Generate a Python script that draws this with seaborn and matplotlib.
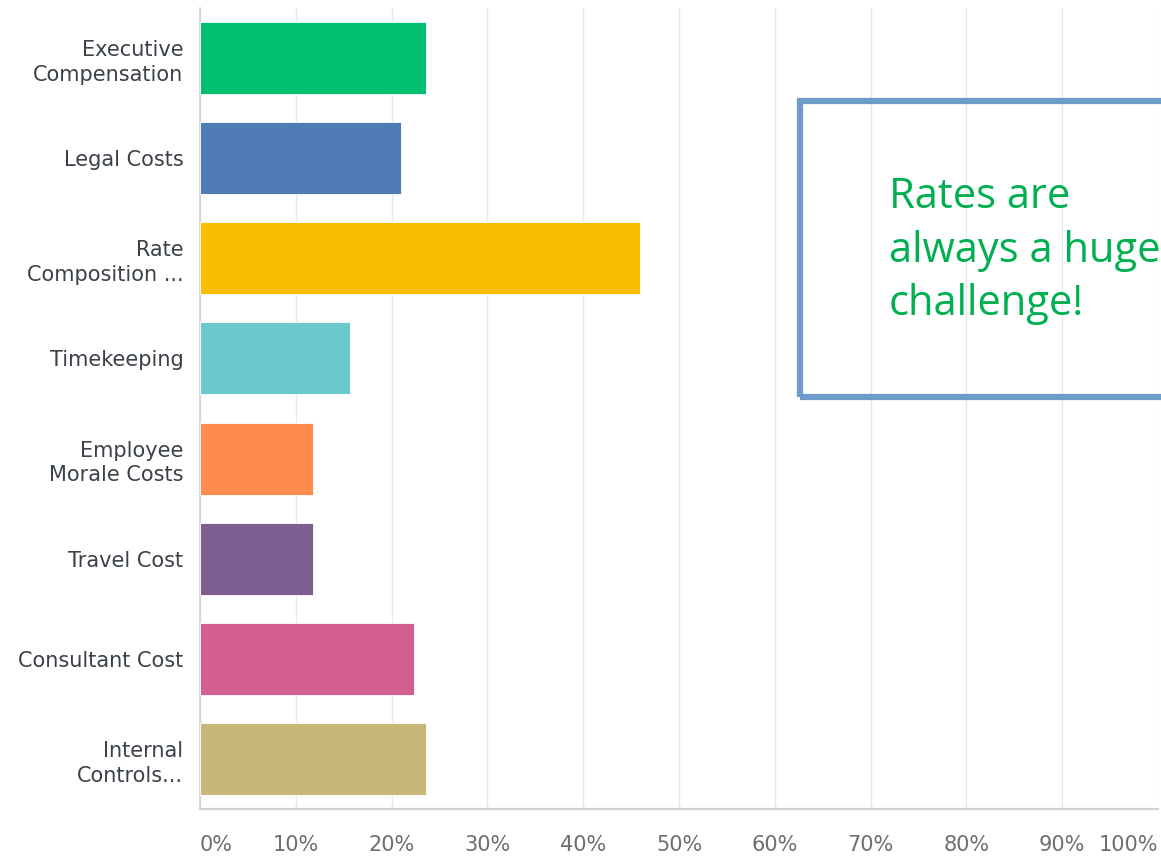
import matplotlib
matplotlib.use("Agg")
import matplotlib.pyplot as plt
import seaborn as sns
import pandas as pd
from matplotlib.patches import Rectangle
from matplotlib.ticker import FuncFormatter

categories = [
    "Executive\nCompensation",
    "Legal Costs",
    "Rate\nComposition ...",
    "Timekeeping",
    "Employee\nMorale Costs",
    "Travel Cost",
    "Consultant Cost",
    "Internal\nControls...",
]
percent = [23.6, 21.0, 45.9, 15.7, 11.8, 11.8, 22.3, 23.6]
bar_colors = ["#00BF6F", "#507CB6", "#F9BE00", "#6BC8CD",
              "#FF8B4F", "#7D5E90", "#D25F90", "#C7B879"]
x_ticks = list(range(0, 101, 10))
note_lines = "Rates are\nalways a huge\nchallenge!"

sns.set_theme(style="white")
plt.rcParams["font.family"] = ["DejaVu Sans"]

df = pd.DataFrame({"category": categories, "percent": percent})

fig = plt.figure(figsize=(11.61, 8.56), dpi=100)
ax = fig.add_axes([200 / 1161, 1 - 809 / 856, 958 / 1161, 801 / 856])

sns.barplot(data=df, x="percent", y="category", hue="category",
            palette=bar_colors, orient="h", width=0.72, legend=False,
            saturation=1, ax=ax, zorder=3)
for patch in ax.patches:
    patch.set_edgecolor("white")
    patch.set_linewidth(0.6)

ax.set_xlim(0, 100)
ax.set_ylim(len(categories) - 0.5, -0.5)
ax.set_xlabel("")
ax.set_ylabel("")
ax.set_xticks(x_ticks)
ax.xaxis.set_major_formatter(FuncFormatter(lambda v, _: f"{int(v)}%"))
ax.grid(axis="x", color="#e9e9e9", linewidth=1.0, zorder=0)
ax.grid(axis="y", visible=False)

for side in ["top", "right"]:
    ax.spines[side].set_visible(False)
ax.spines["left"].set_color("#d0d0d0")
ax.spines["left"].set_linewidth(1.2)
ax.spines["bottom"].set_color("#d0d0d0")
ax.spines["bottom"].set_linewidth(1.6)

ax.tick_params(axis="y", length=0, pad=12, labelsize=15, labelcolor="#3b4148")
ax.tick_params(axis="x", length=0, pad=19, labelsize=15, labelcolor="#6b6e72")
for lbl in ax.get_yticklabels():
    lbl.set_linespacing(1.3)
xlabels = ax.get_xticklabels()
xlabels[0].set_horizontalalignment("left")
xlabels[-1].set_horizontalalignment("right")

# Callout box around the note
fig.patches.append(Rectangle((800 / 1161, 1 - 397 / 856), 420 / 1161, 296 / 856,
                             transform=fig.transFigure, fill=False,
                             edgecolor="#6F9BCB", linewidth=4.5, zorder=5))
fig.text(889 / 1161, 1 - 176 / 856, note_lines, color="#00B050",
         fontsize=30, family=["Open Sans", "DejaVu Sans"],
         ha="left", va="top", linespacing=1.36)

fig.savefig("out.png", dpi=100)
